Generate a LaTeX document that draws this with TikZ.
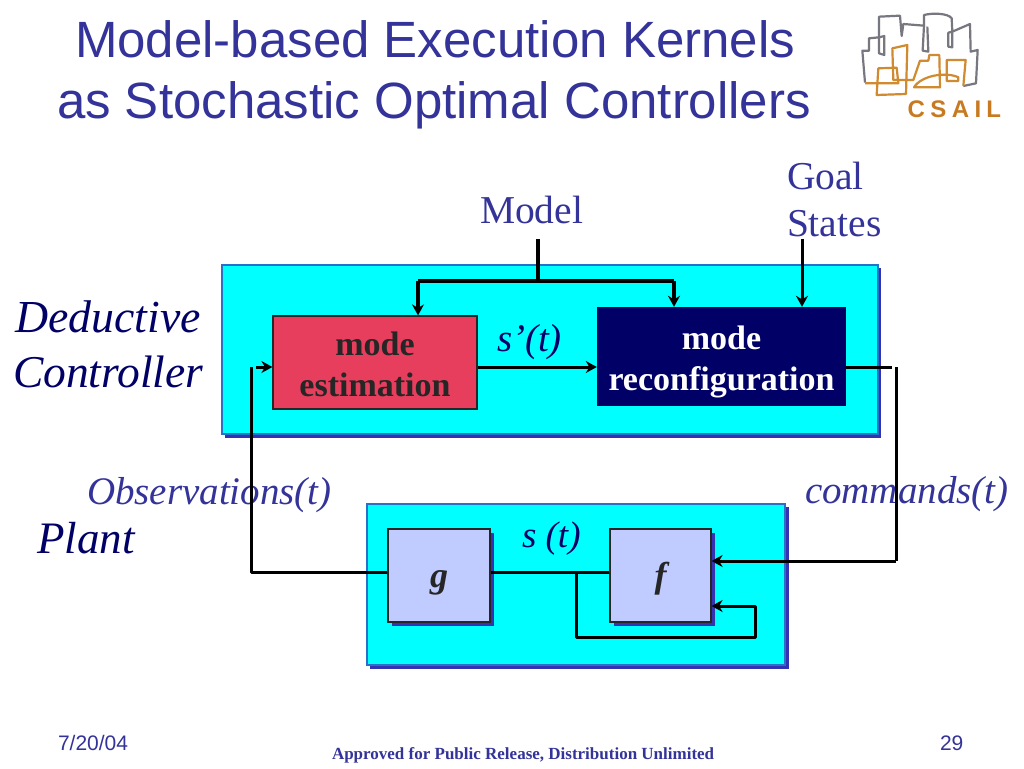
\documentclass[tikz,border=0pt]{standalone}
\usepackage{fontspec}
\setmainfont{Liberation Serif}
\newfontfamily\arialf{Liberation Sans}
\usetikzlibrary{arrows.meta,calc}
\definecolor{titleblue}{HTML}{333399}
\definecolor{shadowblue}{HTML}{3333B3}
\definecolor{panelcyan}{HTML}{00FFFF}
\definecolor{panelline}{HTML}{2A70C8}
\definecolor{estred}{HTML}{E63E5C}
\definecolor{navybox}{HTML}{000066}
\definecolor{paleblue}{HTML}{C0CCFF}
\definecolor{logogrey}{HTML}{77777F}
\definecolor{logoorange}{HTML}{D08A30}
\definecolor{logotext}{HTML}{C87A20}
\newcommand{\fs}[1]{\fontsize{#1}{#1}\selectfont}
\newcommand{\twolines}[2]{\raisebox{7.5pt}[0pt][0pt]{\begin{tabular}[t]{@{}c@{}}#1\\#2\end{tabular}}}
\tikzset{
  panel/.style={draw=panelline,line width=1.2pt,fill=panelcyan,minimum width=#1,inner sep=0pt},
  inbox/.style={draw=black!85,line width=1.2pt,fill=paleblue,minimum width=102pt,minimum height=93pt,inner sep=0pt,font=\fs{36}\bfseries\itshape,text=black!85},
  lab/.style={anchor=base west,inner sep=0pt,outer sep=0pt},
  conn/.style={line width=3pt,draw=black},
  thick conn/.style={line width=3.6pt,draw=black},
  tip/.style={-{Stealth[length=11pt,width=12pt]}},
  logog/.style={draw=logogrey,line width=2.2pt,line join=round},
  logoo/.style={draw=logoorange,line width=2.2pt,line join=round},
}
\begin{document}
\begin{tikzpicture}[x=1pt,y=-1pt]
\useasboundingbox (0,0) rectangle (1024,768);
\fill[white] (0,0) rectangle (1024,768);
% panels
\fill[shadowblue] (225,268) rectangle (881,438);
\node[panel=656pt,minimum height=169pt] (ctrl) at (550,349.5) {};
\fill[shadowblue] (370,507) rectangle (789,669);
\node[panel=418pt,minimum height=161pt] (plantbox) at (576,584.5) {};
% boxes
\node[draw=black!85,line width=1.2pt,fill=estred,minimum width=204pt,minimum height=93pt,inner sep=0pt,text=black!85,font=\fontsize{34}{41}\selectfont\bfseries] (est) at (375,362.5) {\twolines{mode}{estimation}};
\node[fill=navybox,minimum width=249pt,minimum height=99pt,inner sep=0pt,text=white,font=\fontsize{34}{41}\selectfont\bfseries] (rec) at (721.5,356.5) {\twolines{mode}{reconfiguration}};
\fill[shadowblue] (392,533) rectangle (494,626);
\fill[shadowblue] (614,533) rectangle (715,626);
\node[inbox] (g) at (439,575.5) {\raisebox{-11.5pt}[0pt][0pt]{g}};
\node[inbox,minimum width=101pt] (f) at (660.5,575.5) {\raisebox{-11.5pt}[0pt][0pt]{f}};
% titles
\node[lab,text=titleblue,font=\arialf\fs{51}] (t1) at (75,57) {Model-based Execution Kernels};
\node[lab,text=titleblue,font=\arialf\fs{51}] (t2) at (57,118) {as Stochastic Optimal Controllers};
% labels
\node[lab,text=titleblue,font=\fs{39.5}] (model) at (480,223) {Model};
\node[lab,text=titleblue,font=\fs{39.5}] (goal) at (787,189) {Goal};
\node[lab,text=titleblue,font=\fs{39.5}] (states) at (787,236) {States};
\node[lab,text=navybox,font=\fs{45.8}\itshape] (ded) at (15,332) {Deductive};
\node[lab,text=navybox,font=\fs{45.5}\itshape] (con) at (13,387) {Controller};
\node[lab,text=navybox,font=\fs{45}\itshape] (pl) at (37,553) {Plant};
\node[lab,text=navybox,font=\fs{39}\itshape] (sp) at (497,351) {s’(t)};
\node[lab,text=navybox,font=\fs{37}\itshape] (st) at (522,547) {s (t)};
\node[lab,text=titleblue,font=\fs{39}\itshape] (obs) at (87,504) {Observations(t)};
\node[lab,text=titleblue,font=\fs{39}\itshape] (cmd) at (805,503) {commands(t)};
\node[lab,text=titleblue,font=\arialf\fs{21}] (dt) at (58,750) {7/20/04};
\node[lab,text=titleblue,font=\arialf\fs{21}] (pg) at (940,750) {29};
\node[lab,text=titleblue,font=\fs{17}\bfseries] (ap) at (332,759) {Approved for Public Release, Distribution Unlimited};
% junctions
\coordinate (mtop) at (538,239);
\coordinate (mj) at (538,281);
\coordinate (ml) at (418,281);
\coordinate (mr) at (674,281);
\coordinate (gtop) at (802,239);
\coordinate (cmdA) at (892,367);
\coordinate (cmdB) at (896,367);
\coordinate (cmdC) at (896,561);
\coordinate (obsA) at (251,367);
\coordinate (obsB) at (251,572);
\coordinate (obsC) at (256,367);
\coordinate (brA) at (576,572);
\coordinate (brB) at (576,637);
\coordinate (brC) at (755,637);
\coordinate (brD) at (755,606);
% connectors
\draw[thick conn] (mtop) -- (mj);
\draw[thick conn,line join=round] (ml) -- (mr);
\draw[thick conn,tip] (ml) -- (ml |- est.north);
\draw[thick conn,tip] (mr) -- (mr |- rec.north);
\draw[conn,tip] (gtop) -- (gtop |- rec.north);
\draw[conn,tip] (est.east |- 0,367) -- (rec.west |- 0,367);
\draw[conn] (rec.east |- cmdA) -- (cmdA);
\draw[conn] (cmdB) -- (cmdC);
\draw[conn,tip] (cmdC) -- (f.east |- cmdC);
\draw[conn,line join=round] (obsA) -- (obsB) -- (g.west |- obsB);
\draw[conn,tip] (obsC) -- (est.west |- obsC);
\draw[conn] (g.east |- brA) -- (f.west |- brA);
\draw[conn,tip,line join=round] (brA) -- (brB) -- (brC) -- (brD) -- (f.east |- brD);
% logo
\begin{scope}[shift={(850,0)},x=0.3333pt,y=-0.3333pt]
\draw[logog] (45,248) -- (37,152) -- (57,152) -- (57,115) -- (87,112) -- (87,50) -- (150,47) -- (155,108) -- (160,72) -- (222,77) -- (222,45) .. controls (250,38) and (295,40) .. (305,55) -- (307,95) -- (360,72) -- (362,155) -- (383,150) -- (378,250) -- (340,258);
\draw[logog] (87,112) -- (103,108) -- (103,165) -- (87,160) -- cycle;
\draw[logog] (222,77) -- (218,152) -- (235,155) -- (232,80);
\draw[logog] (295,98) -- (307,95) -- (307,142) -- (295,140) -- cycle;
\draw[logoo] (45,250) -- (145,250) -- (140,203) -- (85,205) -- (80,285) -- (168,282) -- (172,135) -- (127,145) -- (130,240) -- (190,240) -- (210,182) -- (235,182) -- (238,165) -- (268,165) -- (270,262) -- (192,262) .. controls (215,225) and (290,215) .. (325,232) -- (325,243) -- (290,243) -- (290,180) -- (347,180) -- (340,258);
\node[anchor=base west,inner sep=0pt,text=logotext,font=\arialf\fs{24}\bfseries] (csail) at (172,354) {C\hspace{5.5pt}S\hspace{5.5pt}A\hspace{5.5pt}I\hspace{5pt}L};
\end{scope}
\end{tikzpicture}
\end{document}
